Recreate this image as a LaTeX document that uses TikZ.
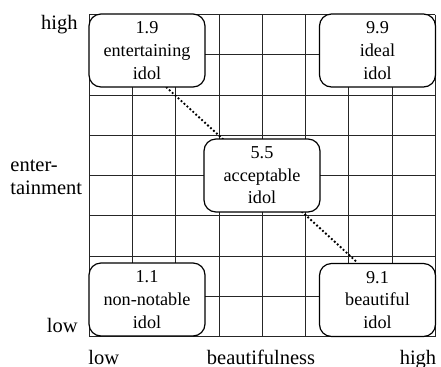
\documentclass[tikz,border=0pt]{standalone}
\usepackage{fontspec}
\setmainfont{Liberation Serif}
\usetikzlibrary{backgrounds}
\begin{document}
\begin{tikzpicture}[x=0.5pt,y=-0.5pt,
  txt/.style={font=\fontsize{9.1}{11.3}\selectfont},
  box/.style={txt, draw, rounded corners=6pt, fill=white, minimum width=58pt, minimum height=36.5pt, align=center, inner sep=0pt, line width=0.6pt},
  lab/.style={font=\fontsize{10.25}{11.5}\selectfont, inner sep=0pt},
  gridline/.style={line width=0.5pt, draw=black!85},
  dotline/.style={line width=1.3pt, line cap=round, dash pattern=on 0pt off 2pt}]
\useasboundingbox (0,0) rectangle (441,366);
\node[box] (n19) at (147,50.5) {1.9\\entertaining\\idol};
\node[box] (n99) at (377.5,50.5) {9.9\\ideal\\idol};
\node[box] (n55) at (262,175.5) {5.5\\acceptable\\idol};
\node[box] (n11) at (147,299.5) {1.1\\non-notable\\idol};
\node[box] (n91) at (377.5,300) {9.1\\beautiful\\idol};
\begin{scope}[on background layer]
  \foreach \i in {0,...,8} {
    \draw[gridline] ({89.5+43.25*\i},14.5) -- ({89.5+43.25*\i},336.5);
    \draw[gridline] (89.5,{14.5+40.25*\i}) -- (435.5,{14.5+40.25*\i});
  }
  \draw[dotline] (n19.-62) -- (n91.118);
\end{scope}
\node[lab, anchor=base east] (yhigh) at (78,29) {high};
\node[lab, anchor=base east] (ylow) at (78,332) {low};
\node[lab, anchor=west, align=left] (yname) at (10,177.5) {enter-\\tainment};
\node[lab, anchor=base west] (xlow) at (88,364) {low};
\node[lab, anchor=base] (xname) at (261,364) {beautifulness};
\node[lab, anchor=base] (xhigh) at (418,364) {high};
\end{tikzpicture}
\end{document}
